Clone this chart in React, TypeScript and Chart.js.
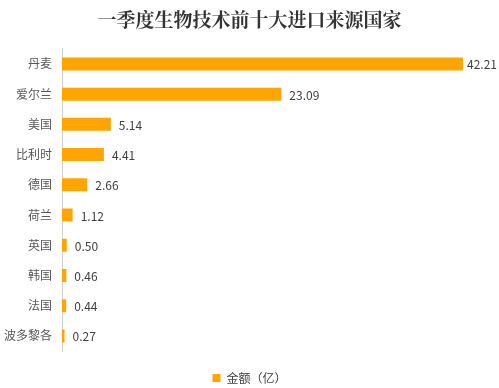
import React, { useEffect, useRef } from "react";
import { Chart, registerables } from "chart.js";

Chart.register(...registerables);

const categories = ["丹麦", "爱尔兰", "美国", "比利时", "德国", "荷兰", "英国", "韩国", "法国", "波多黎各"];
const values = [42.21, 23.09, 5.14, 4.41, 2.66, 1.12, 0.5, 0.46, 0.44, 0.27];
const seriesName = "金额（亿）";
const titleText = "一季度生物技术前十大进口来源国家";

const valueLabels = {
  id: "valueLabels",
  afterDatasetsDraw(chart: any) {
    const ctx = chart.ctx;
    const meta = chart.getDatasetMeta(0);
    ctx.save();
    ctx.font = '12px "Noto Sans CJK SC", "Noto Sans", sans-serif';
    ctx.fillStyle = "#404040";
    ctx.textAlign = "left";
    ctx.textBaseline = "middle";
    meta.data.forEach((el: any, i: number) => {
      const v = chart.data.datasets[0].data[i] as number;
      const t = v.toFixed(2);
      const w = ctx.measureText(t).width;
      const x = Math.min(el.x + 8, chart.width - 2 - w);
      ctx.fillText(t, x, el.y + 1);
    });
    ctx.restore();
  },
};

export default function App() {
  const ref = useRef<HTMLCanvasElement>(null);
  useEffect(() => {
    const chart = new Chart(ref.current!, {
      type: "bar",
      data: {
        labels: categories,
        datasets: [
          {
            label: seriesName,
            data: values,
            backgroundColor: "#FFA503",
            barPercentage: 0.43,
            categoryPercentage: 1,
          },
        ],
      },
      options: {
        indexAxis: "y",
        responsive: false,
        animation: false,
        layout: { padding: { left: 0, right: 0, top: 0, bottom: 0 } },
        plugins: {
          title: {
            display: true,
            text: titleText,
            color: "#333333",
            font: { family: '"Noto Serif CJK SC", "DejaVu Serif", serif', size: 19, weight: "bold" },
            padding: { top: 8, bottom: 18 },
          },
          legend: {
            position: "bottom",
            labels: {
              boxWidth: 8,
              boxHeight: 8,
              padding: 5,
              color: "#404040",
              font: { family: '"Noto Sans CJK SC", sans-serif', size: 12 },
            },
          },
          tooltip: { enabled: false },
        },
        scales: {
          x: {
            display: true,
            min: 0,
            max: 46,
            grid: { display: false },
            border: { display: false },
            ticks: { display: false },
            afterFit: (s: any) => {
              s.height = 16;
            },
          },
          y: {
            grid: { display: false },
            border: { display: true, color: "#d0d0d0" },
            ticks: {
              color: "#595959",
              padding: 2,
              font: { family: '"Noto Sans CJK SC", sans-serif', size: 12 },
            },
            afterFit: (s: any) => {
              s.width = 62;
            },
          },
        },
      },
      plugins: [valueLabels],
    });
    return () => chart.destroy();
  }, []);
  return (
    <div style={{ position: "fixed", left: 0, top: 0, width: 499, height: 388, overflow: "hidden", background: "#fff" }}>
      <canvas ref={ref} width={499} height={394} />
    </div>
  );
}
